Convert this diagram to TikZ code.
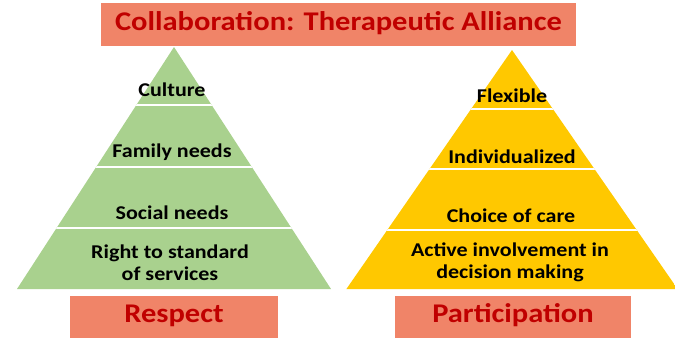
\documentclass[tikz,border=0pt]{standalone}
\usepackage{fontspec}
\setmainfont{Carlito}[FakeStretch=1.13]
\definecolor{bannerfill}{RGB}{240,132,104}
\definecolor{bannertext}{RGB}{192,0,0}
\definecolor{respectgreen}{RGB}{169,209,142}
\definecolor{partyellow}{RGB}{255,200,0}
\tikzset{
  banner/.style={fill=bannerfill, text=bannertext, inner sep=0pt,
    font=\fontsize{27}{30}\selectfont\bfseries, text height=12pt, text depth=0pt},
  tier/.style={font=\fontsize{19.5}{22}\selectfont\bfseries, align=center,
    anchor=base, inner sep=0pt},
  gap/.style={white, line width=2.2pt},
}

\begin{document}
\begin{tikzpicture}[x=1pt,y=-1pt]
  \useasboundingbox (0,0) rectangle (675,341);
  % banners
  \node[banner, minimum width=475pt, minimum height=43pt] (title) at (338.5,24.5)
    {Collaboration: Therapeutic Alliance};
  \node[banner, minimum width=208pt, minimum height=42pt] (respect) at (174,316.5) {Respect};
  \node[banner, minimum width=236pt, minimum height=42pt] (particip) at (513,316.5) {Participation};

  % left pyramid
  \begin{scope}
    \clip (174,47) -- (17,289) -- (331,289) -- cycle;
    \fill[respectgreen] (0,40) rectangle (340,290);
    \foreach \y in {105,167,228}
      \draw[gap] (0,\y) -- (340,\y);
  \end{scope}
  \node[tier] (culture) at (172,96) {Culture};
  \node[tier] (family) at (172,157) {Family needs};
  \node[tier] (social) at (172,219) {Social needs};
  \node[tier] (rights) at (170,280) {Right to standard\\of services};

  % right pyramid
  \begin{scope}
    \clip (512,50) -- (346.4,289) -- (677.6,289) -- cycle;
    \fill[partyellow] (340,40) rectangle (680,290);
    \foreach \y in {109,169,230}
      \draw[gap] (340,\y) -- (680,\y);
  \end{scope}
  \node[tier] (flexible) at (512,102) {Flexible};
  \node[tier] (individual) at (512,163) {Individualized};
  \node[tier] (choice) at (511,222) {Choice of care};
  \node[tier] (involve) at (510,278) {Active involvement in\\decision making};
\end{tikzpicture}
\end{document}
